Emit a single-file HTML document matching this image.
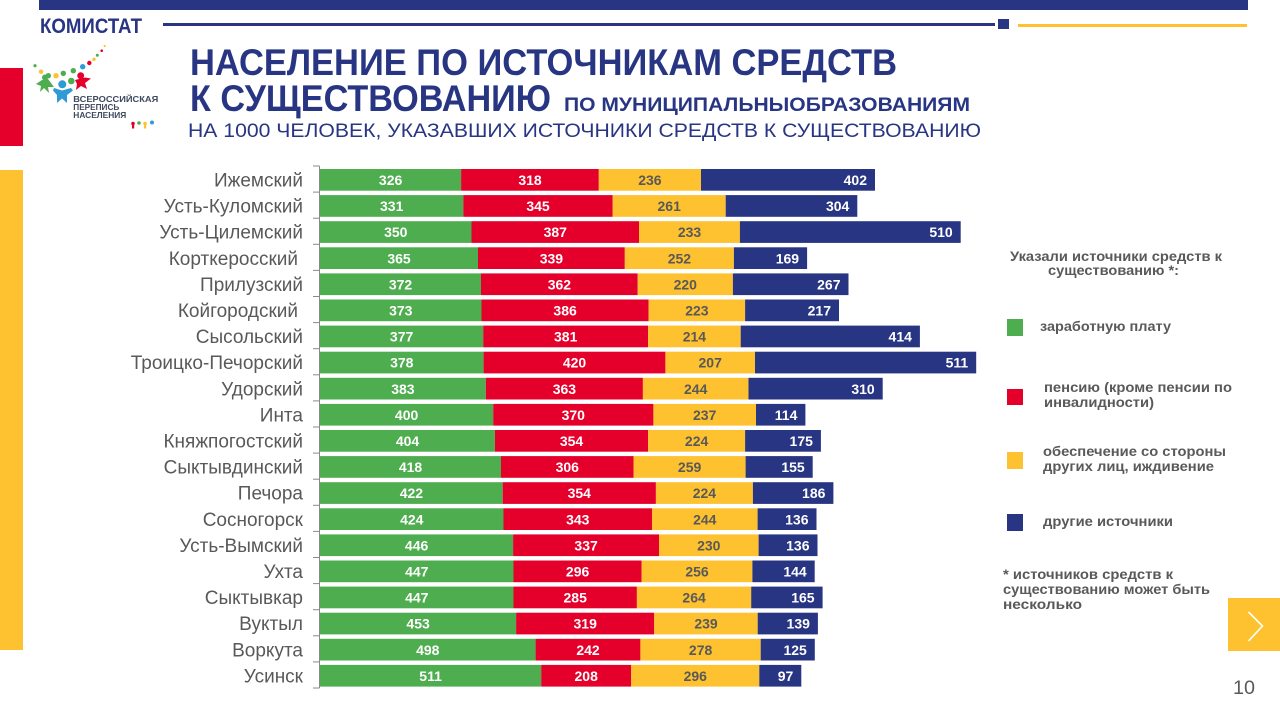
<!DOCTYPE html>
<html>
<head>
<meta charset="utf-8">
<style>
html,body{margin:0;padding:0;background:#fff;}
svg{display:block;}
text{font-family:"Liberation Sans",Arial,sans-serif;}
</style>
</head>
<body>
<svg width="1280" height="720" viewBox="0 0 1280 720" xmlns="http://www.w3.org/2000/svg">
<rect x="0" y="0" width="1280" height="720" fill="#fff"/>
<!-- top decorations -->
<rect x="39" y="0" width="1209" height="10" fill="#283583"/>
<text x="40" y="33" font-size="21" font-weight="bold" fill="#283583" textLength="102" lengthAdjust="spacingAndGlyphs">КОМИСТАТ</text>
<rect x="163" y="23" width="832" height="3" fill="#283583"/>
<rect x="998" y="19" width="11" height="10" fill="#283583"/>
<rect x="1018" y="24" width="229" height="3" fill="#FEC12F"/>
<!-- left side bars -->
<rect x="0" y="68" width="23" height="78" fill="#E4002B"/>
<rect x="0" y="170" width="23" height="480" fill="#FEC12F"/>

<!-- logo -->
<g>
<circle cx="35" cy="65.7" r="1.6" fill="#4EAD4F"/>
<circle cx="41" cy="71.7" r="2.2" fill="#FEC12F"/>
<circle cx="48.3" cy="75.7" r="2.7" fill="#4EAD4F"/>
<circle cx="56" cy="75.7" r="2.7" fill="#FEC12F"/>
<circle cx="63.3" cy="73.3" r="2.7" fill="#4EAD4F"/>
<circle cx="73.3" cy="70.7" r="2.7" fill="#4EAD4F"/>
<circle cx="82.7" cy="66.7" r="2.7" fill="#2E9BD6"/>
<circle cx="89.3" cy="63" r="2.2" fill="#E4002B"/>
<circle cx="94" cy="59.3" r="1.7" fill="#FEC12F"/>
<circle cx="97.3" cy="55.3" r="1.5" fill="#4EAD4F"/>
<circle cx="101.7" cy="50.7" r="1.3" fill="#E4002B"/>
<circle cx="104.7" cy="46" r="1.1" fill="#FEC12F"/>
<circle cx="71.3" cy="81" r="3.3" fill="#4EAD4F"/>
<!-- green figure -->
<circle cx="45" cy="77.5" r="3" fill="#4EAD4F"/>
<polygon points="42,80 48,79 54,87 48,87 49,93 44,88 40,92 41,86 36,84" fill="#4EAD4F"/>
<!-- blue figure -->
<circle cx="62.3" cy="84.3" r="4" fill="#2E9BD6"/>
<polygon points="54,88 62,90.5 71,88 73,90.5 67,95 67,103 62,98.5 57,103 57,95 53,90.5" fill="#2E9BD6"/>
<!-- red figure -->
<circle cx="80.7" cy="75.7" r="3.4" fill="#E4002B"/>
<polygon points="75,80 85,77.5 91,78.5 85,83 87,89 81,86 76,90 77,84" fill="#E4002B"/>
<text x="73.3" y="102" font-size="8.5" font-weight="bold" fill="#3f4a5e" textLength="85" lengthAdjust="spacingAndGlyphs">ВСЕРОССИЙСКАЯ</text>
<text x="73.3" y="110" font-size="8.5" font-weight="bold" fill="#3f4a5e" textLength="46" lengthAdjust="spacingAndGlyphs">ПЕРЕПИСЬ</text>
<text x="73.3" y="118" font-size="8.5" font-weight="bold" fill="#3f4a5e" textLength="53" lengthAdjust="spacingAndGlyphs">НАСЕЛЕНИЯ</text>
<circle cx="133" cy="123.5" r="1.8" fill="#E4002B"/><rect x="132" y="125" width="2.2" height="3.5" fill="#E4002B"/>
<circle cx="139" cy="123" r="1.8" fill="#4EAD4F"/>
<circle cx="145" cy="123.5" r="1.8" fill="#FEC12F"/><rect x="144" y="125" width="2.2" height="3.5" fill="#FEC12F"/>
<circle cx="152" cy="122.5" r="2" fill="#2E9BD6"/>
</g>

<!-- titles -->
<text x="190" y="75" font-size="37" font-weight="bold" fill="#283583" textLength="707" lengthAdjust="spacingAndGlyphs">НАСЕЛЕНИЕ ПО ИСТОЧНИКАМ СРЕДСТВ</text>
<text x="190" y="111" font-size="37" font-weight="bold" fill="#283583" textLength="361" lengthAdjust="spacingAndGlyphs">К СУЩЕСТВОВАНИЮ</text>
<text x="564" y="111" font-size="19.5" font-weight="bold" fill="#283583" textLength="406" lengthAdjust="spacingAndGlyphs">ПО МУНИЦИПАЛЬНЫОБРАЗОВАНИЯМ</text>
<text x="188" y="137" font-size="19.5" fill="#283583" textLength="793" lengthAdjust="spacingAndGlyphs">НА 1000 ЧЕЛОВЕК, УКАЗАВШИХ  ИСТОЧНИКИ  СРЕДСТВ  К СУЩЕСТВОВАНИЮ</text>

<!-- axis -->
<g stroke="#8a8a8a" stroke-width="1">
<line x1="319.5" y1="166" x2="319.5" y2="688"/>
<line x1="313" y1="166" x2="319.5" y2="166"/>
<line x1="313" y1="192.1" x2="319.5" y2="192.1"/>
<line x1="313" y1="218.2" x2="319.5" y2="218.2"/>
<line x1="313" y1="244.3" x2="319.5" y2="244.3"/>
<line x1="313" y1="270.4" x2="319.5" y2="270.4"/>
<line x1="313" y1="296.5" x2="319.5" y2="296.5"/>
<line x1="313" y1="322.6" x2="319.5" y2="322.6"/>
<line x1="313" y1="348.7" x2="319.5" y2="348.7"/>
<line x1="313" y1="374.8" x2="319.5" y2="374.8"/>
<line x1="313" y1="400.9" x2="319.5" y2="400.9"/>
<line x1="313" y1="427" x2="319.5" y2="427"/>
<line x1="313" y1="453.1" x2="319.5" y2="453.1"/>
<line x1="313" y1="479.2" x2="319.5" y2="479.2"/>
<line x1="313" y1="505.3" x2="319.5" y2="505.3"/>
<line x1="313" y1="531.4" x2="319.5" y2="531.4"/>
<line x1="313" y1="557.5" x2="319.5" y2="557.5"/>
<line x1="313" y1="583.6" x2="319.5" y2="583.6"/>
<line x1="313" y1="609.7" x2="319.5" y2="609.7"/>
<line x1="313" y1="635.8" x2="319.5" y2="635.8"/>
<line x1="313" y1="661.9" x2="319.5" y2="661.9"/>
<line x1="313" y1="688" x2="319.5" y2="688"/>
</g>

<!-- rows -->
<g font-size="14" font-weight="bold">
<g transform="translate(0,169)">
<text x="303" y="17.5" font-size="19" font-weight="normal" fill="#595959" text-anchor="end">Ижемский</text>
<rect x="320" y="0" width="141.1" height="21.7" fill="#4EAD4F"/><rect x="461.1" y="0" width="137.7" height="21.7" fill="#E4002B"/><rect x="598.8" y="0" width="102.2" height="21.7" fill="#FEC12F"/><rect x="701" y="0" width="174" height="21.7" fill="#283583"/>
<text x="390.6" y="16" fill="#fff" text-anchor="middle">326</text><text x="530" y="16" fill="#fff" text-anchor="middle">318</text><text x="649.9" y="16" fill="#595959" text-anchor="middle">236</text><text x="867" y="16" fill="#fff" text-anchor="end">402</text>
</g>
<g transform="translate(0,195.1)">
<text x="303" y="17.5" font-size="19" font-weight="normal" fill="#595959" text-anchor="end">Усть-Куломский</text>
<rect x="320" y="0" width="143.3" height="21.7" fill="#4EAD4F"/><rect x="463.3" y="0" width="149.4" height="21.7" fill="#E4002B"/><rect x="612.7" y="0" width="113" height="21.7" fill="#FEC12F"/><rect x="725.7" y="0" width="131.6" height="21.7" fill="#283583"/>
<text x="391.7" y="16" fill="#fff" text-anchor="middle">331</text><text x="538" y="16" fill="#fff" text-anchor="middle">345</text><text x="669.2" y="16" fill="#595959" text-anchor="middle">261</text><text x="849.3" y="16" fill="#fff" text-anchor="end">304</text>
</g>
<g transform="translate(0,221.2)">
<text x="303" y="17.5" font-size="19" font-weight="normal" fill="#595959" text-anchor="end">Усть-Цилемский</text>
<rect x="320" y="0" width="151.5" height="21.7" fill="#4EAD4F"/><rect x="471.5" y="0" width="167.5" height="21.7" fill="#E4002B"/><rect x="639" y="0" width="100.9" height="21.7" fill="#FEC12F"/><rect x="739.9" y="0" width="220.8" height="21.7" fill="#283583"/>
<text x="395.8" y="16" fill="#fff" text-anchor="middle">350</text><text x="555.3" y="16" fill="#fff" text-anchor="middle">387</text><text x="689.5" y="16" fill="#595959" text-anchor="middle">233</text><text x="952.7" y="16" fill="#fff" text-anchor="end">510</text>
</g>
<g transform="translate(0,247.3)">
<text x="298" y="17.5" font-size="19" font-weight="normal" fill="#595959" text-anchor="end">Корткеросский</text>
<rect x="320" y="0" width="158" height="21.7" fill="#4EAD4F"/><rect x="478" y="0" width="146.8" height="21.7" fill="#E4002B"/><rect x="624.8" y="0" width="109.1" height="21.7" fill="#FEC12F"/><rect x="733.9" y="0" width="73.2" height="21.7" fill="#283583"/>
<text x="399" y="16" fill="#fff" text-anchor="middle">365</text><text x="551.4" y="16" fill="#fff" text-anchor="middle">339</text><text x="679.4" y="16" fill="#595959" text-anchor="middle">252</text><text x="799.1" y="16" fill="#fff" text-anchor="end">169</text>
</g>
<g transform="translate(0,273.4)">
<text x="303" y="17.5" font-size="19" font-weight="normal" fill="#595959" text-anchor="end">Прилузский</text>
<rect x="320" y="0" width="161" height="21.7" fill="#4EAD4F"/><rect x="481" y="0" width="156.7" height="21.7" fill="#E4002B"/><rect x="637.7" y="0" width="95.2" height="21.7" fill="#FEC12F"/><rect x="732.9" y="0" width="115.6" height="21.7" fill="#283583"/>
<text x="400.5" y="16" fill="#fff" text-anchor="middle">372</text><text x="559.4" y="16" fill="#fff" text-anchor="middle">362</text><text x="685.3" y="16" fill="#595959" text-anchor="middle">220</text><text x="840.5" y="16" fill="#fff" text-anchor="end">267</text>
</g>
<g transform="translate(0,299.5)">
<text x="298" y="17.5" font-size="19" font-weight="normal" fill="#595959" text-anchor="end">Койгородский</text>
<rect x="320" y="0" width="161.5" height="21.7" fill="#4EAD4F"/><rect x="481.5" y="0" width="167.1" height="21.7" fill="#E4002B"/><rect x="648.6" y="0" width="96.5" height="21.7" fill="#FEC12F"/><rect x="745.1" y="0" width="93.9" height="21.7" fill="#283583"/>
<text x="400.8" y="16" fill="#fff" text-anchor="middle">373</text><text x="565.1" y="16" fill="#fff" text-anchor="middle">386</text><text x="696.9" y="16" fill="#595959" text-anchor="middle">223</text><text x="831" y="16" fill="#fff" text-anchor="end">217</text>
</g>
<g transform="translate(0,325.6)">
<text x="303" y="17.5" font-size="19" font-weight="normal" fill="#595959" text-anchor="end">Сысольский</text>
<rect x="320" y="0" width="163.2" height="21.7" fill="#4EAD4F"/><rect x="483.2" y="0" width="164.9" height="21.7" fill="#E4002B"/><rect x="648.1" y="0" width="92.6" height="21.7" fill="#FEC12F"/><rect x="740.7" y="0" width="179.2" height="21.7" fill="#283583"/>
<text x="401.6" y="16" fill="#fff" text-anchor="middle">377</text><text x="565.7" y="16" fill="#fff" text-anchor="middle">381</text><text x="694.4" y="16" fill="#595959" text-anchor="middle">214</text><text x="911.9" y="16" fill="#fff" text-anchor="end">414</text>
</g>
<g transform="translate(0,351.7)">
<text x="303" y="17.5" font-size="19" font-weight="normal" fill="#595959" text-anchor="end">Троицко-Печорский</text>
<rect x="320" y="0" width="163.6" height="21.7" fill="#4EAD4F"/><rect x="483.6" y="0" width="181.8" height="21.7" fill="#E4002B"/><rect x="665.4" y="0" width="89.6" height="21.7" fill="#FEC12F"/><rect x="755" y="0" width="221.2" height="21.7" fill="#283583"/>
<text x="401.8" y="16" fill="#fff" text-anchor="middle">378</text><text x="574.5" y="16" fill="#fff" text-anchor="middle">420</text><text x="710.2" y="16" fill="#595959" text-anchor="middle">207</text><text x="968.2" y="16" fill="#fff" text-anchor="end">511</text>
</g>
<g transform="translate(0,377.8)">
<text x="303" y="17.5" font-size="19" font-weight="normal" fill="#595959" text-anchor="end">Удорский</text>
<rect x="320" y="0" width="165.8" height="21.7" fill="#4EAD4F"/><rect x="485.8" y="0" width="157.1" height="21.7" fill="#E4002B"/><rect x="642.9" y="0" width="105.6" height="21.7" fill="#FEC12F"/><rect x="748.5" y="0" width="134.2" height="21.7" fill="#283583"/>
<text x="402.9" y="16" fill="#fff" text-anchor="middle">383</text><text x="564.4" y="16" fill="#fff" text-anchor="middle">363</text><text x="695.7" y="16" fill="#595959" text-anchor="middle">244</text><text x="874.7" y="16" fill="#fff" text-anchor="end">310</text>
</g>
<g transform="translate(0,403.9)">
<text x="303" y="17.5" font-size="19" font-weight="normal" fill="#595959" text-anchor="end">Инта</text>
<rect x="320" y="0" width="173.2" height="21.7" fill="#4EAD4F"/><rect x="493.2" y="0" width="160.2" height="21.7" fill="#E4002B"/><rect x="653.4" y="0" width="102.6" height="21.7" fill="#FEC12F"/><rect x="756" y="0" width="49.4" height="21.7" fill="#283583"/>
<text x="406.6" y="16" fill="#fff" text-anchor="middle">400</text><text x="573.3" y="16" fill="#fff" text-anchor="middle">370</text><text x="704.7" y="16" fill="#595959" text-anchor="middle">237</text><text x="797.4" y="16" fill="#fff" text-anchor="end">114</text>
</g>
<g transform="translate(0,430)">
<text x="303" y="17.5" font-size="19" font-weight="normal" fill="#595959" text-anchor="end">Княжпогостский</text>
<rect x="320" y="0" width="174.9" height="21.7" fill="#4EAD4F"/><rect x="494.9" y="0" width="153.2" height="21.7" fill="#E4002B"/><rect x="648.1" y="0" width="97" height="21.7" fill="#FEC12F"/><rect x="745.1" y="0" width="75.8" height="21.7" fill="#283583"/>
<text x="407.5" y="16" fill="#fff" text-anchor="middle">404</text><text x="571.5" y="16" fill="#fff" text-anchor="middle">354</text><text x="696.6" y="16" fill="#595959" text-anchor="middle">224</text><text x="812.9" y="16" fill="#fff" text-anchor="end">175</text>
</g>
<g transform="translate(0,456.1)">
<text x="303" y="17.5" font-size="19" font-weight="normal" fill="#595959" text-anchor="end">Сыктывдинский</text>
<rect x="320" y="0" width="181" height="21.7" fill="#4EAD4F"/><rect x="501" y="0" width="132.5" height="21.7" fill="#E4002B"/><rect x="633.5" y="0" width="112.1" height="21.7" fill="#FEC12F"/><rect x="745.6" y="0" width="67.1" height="21.7" fill="#283583"/>
<text x="410.5" y="16" fill="#fff" text-anchor="middle">418</text><text x="567.3" y="16" fill="#fff" text-anchor="middle">306</text><text x="689.6" y="16" fill="#595959" text-anchor="middle">259</text><text x="804.7" y="16" fill="#fff" text-anchor="end">155</text>
</g>
<g transform="translate(0,482.2)">
<text x="303" y="17.5" font-size="19" font-weight="normal" fill="#595959" text-anchor="end">Печора</text>
<rect x="320" y="0" width="182.7" height="21.7" fill="#4EAD4F"/><rect x="502.7" y="0" width="153.2" height="21.7" fill="#E4002B"/><rect x="655.9" y="0" width="97" height="21.7" fill="#FEC12F"/><rect x="752.9" y="0" width="80.5" height="21.7" fill="#283583"/>
<text x="411.4" y="16" fill="#fff" text-anchor="middle">422</text><text x="579.3" y="16" fill="#fff" text-anchor="middle">354</text><text x="704.4" y="16" fill="#595959" text-anchor="middle">224</text><text x="825.4" y="16" fill="#fff" text-anchor="end">186</text>
</g>
<g transform="translate(0,508.3)">
<text x="303" y="17.5" font-size="19" font-weight="normal" fill="#595959" text-anchor="end">Сосногорск</text>
<rect x="320" y="0" width="183.5" height="21.7" fill="#4EAD4F"/><rect x="503.5" y="0" width="148.5" height="21.7" fill="#E4002B"/><rect x="652" y="0" width="105.6" height="21.7" fill="#FEC12F"/><rect x="757.6" y="0" width="58.9" height="21.7" fill="#283583"/>
<text x="411.8" y="16" fill="#fff" text-anchor="middle">424</text><text x="577.8" y="16" fill="#fff" text-anchor="middle">343</text><text x="704.8" y="16" fill="#595959" text-anchor="middle">244</text><text x="808.5" y="16" fill="#fff" text-anchor="end">136</text>
</g>
<g transform="translate(0,534.4)">
<text x="303" y="17.5" font-size="19" font-weight="normal" fill="#595959" text-anchor="end">Усть-Вымский</text>
<rect x="320" y="0" width="193.1" height="21.7" fill="#4EAD4F"/><rect x="513.1" y="0" width="145.9" height="21.7" fill="#E4002B"/><rect x="659" y="0" width="99.6" height="21.7" fill="#FEC12F"/><rect x="758.6" y="0" width="58.9" height="21.7" fill="#283583"/>
<text x="416.6" y="16" fill="#fff" text-anchor="middle">446</text><text x="586.1" y="16" fill="#fff" text-anchor="middle">337</text><text x="708.8" y="16" fill="#595959" text-anchor="middle">230</text><text x="809.5" y="16" fill="#fff" text-anchor="end">136</text>
</g>
<g transform="translate(0,560.5)">
<text x="303" y="17.5" font-size="19" font-weight="normal" fill="#595959" text-anchor="end">Ухта</text>
<rect x="320" y="0" width="193.5" height="21.7" fill="#4EAD4F"/><rect x="513.5" y="0" width="128.1" height="21.7" fill="#E4002B"/><rect x="641.6" y="0" width="110.8" height="21.7" fill="#FEC12F"/><rect x="752.4" y="0" width="62.3" height="21.7" fill="#283583"/>
<text x="416.8" y="16" fill="#fff" text-anchor="middle">447</text><text x="577.6" y="16" fill="#fff" text-anchor="middle">296</text><text x="697" y="16" fill="#595959" text-anchor="middle">256</text><text x="806.7" y="16" fill="#fff" text-anchor="end">144</text>
</g>
<g transform="translate(0,586.6)">
<text x="303" y="17.5" font-size="19" font-weight="normal" fill="#595959" text-anchor="end">Сыктывкар</text>
<rect x="320" y="0" width="193.5" height="21.7" fill="#4EAD4F"/><rect x="513.5" y="0" width="123.4" height="21.7" fill="#E4002B"/><rect x="636.9" y="0" width="114.3" height="21.7" fill="#FEC12F"/><rect x="751.2" y="0" width="71.4" height="21.7" fill="#283583"/>
<text x="416.8" y="16" fill="#fff" text-anchor="middle">447</text><text x="575.2" y="16" fill="#fff" text-anchor="middle">285</text><text x="694.1" y="16" fill="#595959" text-anchor="middle">264</text><text x="814.6" y="16" fill="#fff" text-anchor="end">165</text>
</g>
<g transform="translate(0,612.7)">
<text x="303" y="17.5" font-size="19" font-weight="normal" fill="#595959" text-anchor="end">Вуктыл</text>
<rect x="320" y="0" width="196.1" height="21.7" fill="#4EAD4F"/><rect x="516.1" y="0" width="138.1" height="21.7" fill="#E4002B"/><rect x="654.2" y="0" width="103.5" height="21.7" fill="#FEC12F"/><rect x="757.7" y="0" width="60.2" height="21.7" fill="#283583"/>
<text x="418.1" y="16" fill="#fff" text-anchor="middle">453</text><text x="585.2" y="16" fill="#fff" text-anchor="middle">319</text><text x="706" y="16" fill="#595959" text-anchor="middle">239</text><text x="809.9" y="16" fill="#fff" text-anchor="end">139</text>
</g>
<g transform="translate(0,638.8)">
<text x="303" y="17.5" font-size="19" font-weight="normal" fill="#595959" text-anchor="end">Воркута</text>
<rect x="320" y="0" width="215.6" height="21.7" fill="#4EAD4F"/><rect x="535.6" y="0" width="104.8" height="21.7" fill="#E4002B"/><rect x="640.4" y="0" width="120.3" height="21.7" fill="#FEC12F"/><rect x="760.7" y="0" width="54.1" height="21.7" fill="#283583"/>
<text x="427.8" y="16" fill="#fff" text-anchor="middle">498</text><text x="588" y="16" fill="#fff" text-anchor="middle">242</text><text x="700.6" y="16" fill="#595959" text-anchor="middle">278</text><text x="806.8" y="16" fill="#fff" text-anchor="end">125</text>
</g>
<g transform="translate(0,664.9)">
<text x="303" y="17.5" font-size="19" font-weight="normal" fill="#595959" text-anchor="end">Усинск</text>
<rect x="320" y="0" width="221.2" height="21.7" fill="#4EAD4F"/><rect x="541.2" y="0" width="90" height="21.7" fill="#E4002B"/><rect x="631.2" y="0" width="128.1" height="21.7" fill="#FEC12F"/><rect x="759.3" y="0" width="42" height="21.7" fill="#283583"/>
<text x="430.6" y="16" fill="#fff" text-anchor="middle">511</text><text x="586.2" y="16" fill="#fff" text-anchor="middle">208</text><text x="695.3" y="16" fill="#595959" text-anchor="middle">296</text><text x="793.3" y="16" fill="#fff" text-anchor="end">97</text>
</g>
</g>

<!-- legend -->
<g font-size="14" font-weight="bold" fill="#595959">
<text x="1010" y="261" textLength="212" lengthAdjust="spacingAndGlyphs">Указали источники средств к</text>
<text x="1048" y="275" textLength="131" lengthAdjust="spacingAndGlyphs">существованию  *:</text>
<rect x="1007" y="319" width="16" height="17" fill="#4EAD4F"/>
<text x="1040" y="331" textLength="131" lengthAdjust="spacingAndGlyphs">заработную  плату</text>
<rect x="1007" y="389" width="16" height="16" fill="#E4002B"/>
<text x="1044" y="392" textLength="188" lengthAdjust="spacingAndGlyphs">пенсию (кроме пенсии по</text>
<text x="1044" y="407" textLength="110" lengthAdjust="spacingAndGlyphs">инвалидности)</text>
<rect x="1007" y="452" width="16" height="17" fill="#FEC12F"/>
<text x="1043" y="456" textLength="183" lengthAdjust="spacingAndGlyphs">обеспечение со стороны</text>
<text x="1043" y="471" textLength="171" lengthAdjust="spacingAndGlyphs">других  лиц, иждивение</text>
<rect x="1007" y="514" width="16" height="17" fill="#283583"/>
<text x="1043" y="526" textLength="130" lengthAdjust="spacingAndGlyphs">другие источники</text>
<text x="1003" y="579" textLength="170" lengthAdjust="spacingAndGlyphs">* источников средств к</text>
<text x="1003" y="594" textLength="207" lengthAdjust="spacingAndGlyphs">существованию  может быть</text>
<text x="1003" y="609" textLength="79" lengthAdjust="spacingAndGlyphs">несколько</text>
</g>

<!-- nav -->
<rect x="1228" y="598" width="52" height="53" fill="#FEC12F"/>
<polyline points="1248.5,612 1262.5,626 1248.5,641" fill="none" stroke="#fff" stroke-width="1.6"/>
<text x="1233" y="694" font-size="19.5" fill="#595959" textLength="22" lengthAdjust="spacingAndGlyphs">10</text>
</svg>
</body>
</html>
